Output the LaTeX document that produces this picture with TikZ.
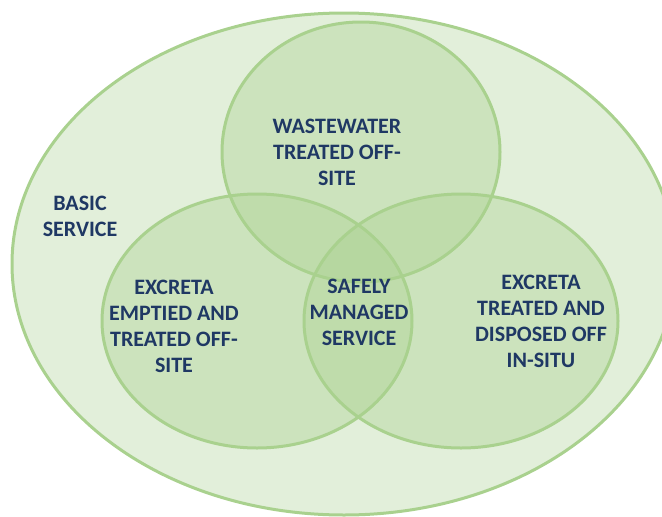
\documentclass[tikz,border=0pt]{standalone}
\usepackage{fontspec}
\setmainfont{Carlito}
\usetikzlibrary{positioning}
\definecolor{basicfill}{HTML}{E2EFDA}
\definecolor{ringline}{HTML}{A9D18E}
\definecolor{labeltext}{HTML}{1F3864}
\tikzset{
  ring/.style={draw=ringline, line width=3pt, fill=ringline, fill opacity=.37},
  lbl/.style={text=labeltext, font=\fontsize{22}{26}\selectfont\bfseries, align=center, inner sep=0pt}
}

\begin{document}
\begin{tikzpicture}[x=1pt,y=-1pt]
        \useasboundingbox (0,0) rectangle (662,517);
        \clip (0,0) rectangle (662,517);
        \draw [draw=ringline, line width=3pt, fill=basicfill] (344,264) ellipse [x radius=332, y radius=251];
        \draw [ring] (361,152) ellipse [x radius=139, y radius=130];
        \draw [ring] (257,321) ellipse [x radius=155, y radius=127];
        \draw [ring] (461,321) ellipse [x radius=157, y radius=127];
        \node [lbl] (basic) at (80,216) {BASIC\\SERVICE};
        \node [lbl] (wastewater) at (337,152) {WASTEWATER\\TREATED OFF-\\SITE};
        \node [lbl] (emptied) at (174,326) {EXCRETA\\EMPTIED AND\\TREATED OFF-\\SITE};
        \node [lbl] (safely) at (359,312) {SAFELY\\MANAGED\\SERVICE};
        \node [lbl] (insitu) at (541,321) {EXCRETA\\TREATED AND\\DISPOSED OFF\\IN-SITU};
      \end{tikzpicture}
\end{document}
